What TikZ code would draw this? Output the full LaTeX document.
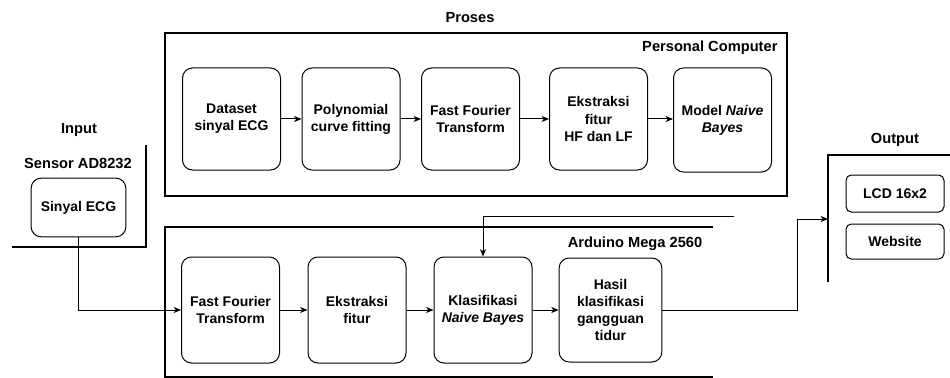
\documentclass[tikz,border=0pt]{standalone}
\usepackage{fontspec}
\setmainfont{Liberation Sans}
\usetikzlibrary{arrows.meta}
\begin{document}
\begin{tikzpicture}[x=0.75pt,y=-0.75pt,
  line width=0.75pt,
  box/.style={draw, rounded corners=7.5pt, align=center, inner sep=1pt,
    font=\fontsize{10.5}{12.8}\selectfont\bfseries},
  topbox/.style={box, minimum width=73.5pt, minimum height=76.5pt},
  botbox/.style={box, minimum width=73.5pt, minimum height=79.5pt},
  smallbox/.style={box, rounded corners=4pt, minimum width=73.5pt},
  head/.style={font=\fontsize{11}{13}\selectfont\bfseries, inner sep=0pt},
  frame/.style={draw, line width=0.8pt},
  arr/.style={-{Stealth[length=5.5pt,width=4.5pt,inset=1.5pt]}}
]
\useasboundingbox (0,0) rectangle (950,378);

% labels
\node[head] (lproses) at (470,18) {Proses};
\node[head] (linput) at (79,130) {Input};
\node[head] (lsensor) at (78,163) {Sensor AD8232};
\node[head] (loutput) at (895,140) {Output};
\node[head, anchor=east] (lpc) at (778,48) {Personal Computer};
\node[head] (lard) at (635,244) {Arduino Mega 2560};

% frames
\draw[frame] (165,33) rectangle (787,196);
\draw[frame] (713,227) -- (165,227) -- (165,377) -- (713,377);
\draw[frame] (12,247) -- (146,247) -- (146,145);
\draw[frame] (828,282) -- (828,155) -- (950,155);

% Personal computer boxes
\node[topbox] (ds) at (231.5,119) {Dataset\\sinyal ECG};
\node[topbox] (poly) at (351,119) {Polynomial\\curve fitting};
\node[topbox] (fft1) at (470.5,119) {Fast Fourier\\Transform};
\node[topbox] (ext1) at (598.5,119) {Ekstraksi\\fitur\\HF dan LF};
\node[topbox, minimum height=78pt] (model) at (722.5,120) {Model \textit{Naive}\\\textit{Bayes}};

\draw[arr] (ds) -- (poly);
\draw[arr] (poly) -- (fft1);
\draw[arr] (fft1) -- (ext1);
\draw[arr] (ext1) -- (model.west |- ext1.east);

% Input
\node[box, minimum width=71pt, minimum height=44pt] (sig) at (78.5,207.5) {Sinyal ECG};

% Arduino boxes
\node[botbox] (fft2) at (230.5,310) {Fast Fourier\\Transform};
\node[botbox] (ext2) at (357,310) {Ekstraksi\\fitur};
\node[botbox] (kls) at (483,310) {Klasifikasi\\\textit{Naive Bayes}};
\node[botbox, minimum width=77pt, minimum height=78pt] (hasil) at (610.5,310) {Hasil\\klasifikasi\\gangguan\\tidur};

% Output boxes
\node[smallbox, minimum height=27.75pt] (lcd) at (895,193.5) {LCD 16x2};
\node[smallbox, minimum height=26.25pt] (web) at (895,241.5) {Website};

% connectors
\coordinate (mfree) at (734,216);
\coordinate (outin) at (828,219);
\draw[arr] (sig.south) |- (fft2.west);
\draw[arr] (fft2) -- (ext2);
\draw[arr] (ext2) -- (kls);
\draw[arr] (kls) -- (hasil.west |- kls.east);
\draw[arr] (mfree) -| (kls.north);
\draw[arr] (hasil.east |- kls.east) -- (797,310) |- (outin);
\end{tikzpicture}
\end{document}
